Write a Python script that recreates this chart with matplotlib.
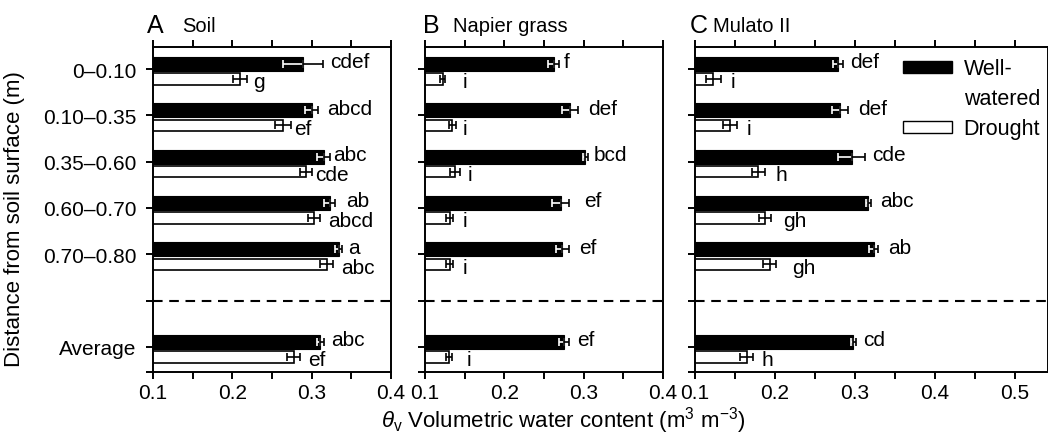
import matplotlib
matplotlib.use("Agg")
import matplotlib.pyplot as plt
from matplotlib.patches import Patch
from matplotlib.ticker import MultipleLocator, NullFormatter

plt.rcParams['font.family'] = ['Liberation Sans', 'DejaVu Sans']
plt.rcParams['mathtext.fontset'] = 'custom'
plt.rcParams['mathtext.rm'] = 'Liberation Sans'
plt.rcParams['mathtext.it'] = 'Liberation Sans:italic'

# ---- data ----
depths = ['0–0.10', '0.10–0.35', '0.35–0.60', '0.60–0.70', '0.70–0.80', 'Average']

soil_ww = [0.289, 0.300, 0.315, 0.323, 0.334, 0.311]
soil_ww_err = [0.025, 0.008, 0.008, 0.007, 0.004, 0.004]
soil_dr = [0.210, 0.264, 0.293, 0.3025, 0.319, 0.2775]
soil_dr_err = [0.009, 0.010, 0.008, 0.0075, 0.008, 0.008]
soil_ww_let = ['cdef', 'abcd', 'abc', 'ab', 'a', 'abc']
soil_dr_let = ['g', 'ef', 'cde', 'abcd', 'abc', 'ef']

napier_ww = [0.2625, 0.283, 0.302, 0.271, 0.273, 0.2755]
napier_ww_err = [0.007, 0.010, 0.003, 0.011, 0.008, 0.006]
napier_dr = [0.1225, 0.1346, 0.1375, 0.131, 0.131, 0.1305]
napier_dr_err = [0.003, 0.004, 0.006, 0.004, 0.004, 0.004]
napier_ww_let = ['f', 'def', 'bcd', 'ef', 'ef', 'ef']
napier_dr_let = ['i', 'i', 'i', 'i', 'i', 'i']

mulato_ww = [0.279, 0.281, 0.296, 0.3167, 0.323, 0.298]
mulato_ww_err = [0.006, 0.010, 0.017, 0.003, 0.005, 0.003]
mulato_dr = [0.123, 0.144, 0.179, 0.1875, 0.1935, 0.1646]
mulato_dr_err = [0.009, 0.009, 0.008, 0.007, 0.008, 0.008]
mulato_ww_let = ['def', 'def', 'cde', 'abc', 'ab', 'cd']
mulato_dr_let = ['i', 'i', 'h', 'gh', 'gh', 'h']

# ---- layout ----
W, H = 1048, 435
top_px, bot_px = 48, 373
# (left px, right px, xmax, panel letter, title, letter dx, title dx)
panels = [
    (153, 391, 0.4, 'A', 'Soil', -6, 29),
    (425, 663, 0.4, 'B', 'Napier grass', -2, 28),
    (695, 1048, 0.541, 'C', 'Mulato II', -5, 18),
]
series = [
    (soil_ww, soil_ww_err, soil_dr, soil_dr_err, soil_ww_let, soil_dr_let),
    (napier_ww, napier_ww_err, napier_dr, napier_dr_err, napier_ww_let, napier_dr_let),
    (mulato_ww, mulato_ww_err, mulato_dr, mulato_dr_err, mulato_ww_let, mulato_dr_let),
]
# gap between error bar end and letter (data units)
gaps_ww = [
    [0.009, 0.011, 0.0045, 0.014, 0.008, 0.010],
    [0.0055, 0.013, 0.0075, 0.018, 0.013, 0.010],
    [0.009, 0.013, 0.008, 0.011, 0.0137, 0.009],
]
gaps_dr = [
    [0.007, 0.0035, 0.0036, 0.011, 0.0105, 0.0105],
    [0.0225, 0.009, 0.0106, 0.013, 0.013, 0.0175],
    [0.012, 0.0116, 0.013, 0.0155, 0.0195, 0.0104],
]

rows = [0, 1, 2, 3, 4, 6]
ylim = (6.54, -0.475)

fig = plt.figure(figsize=(W / 100, H / 100), dpi=100)

axes = []
for k, (lpx, rpx, xmax, plet, ptitle, ldx, tdx) in enumerate(panels):
    ax = fig.add_axes([lpx / W, 1 - bot_px / H, (rpx - lpx) / W, (bot_px - top_px) / H])
    axes.append(ax)
    ww, ww_err, dr, dr_err, ww_let, dr_let = series[k]

    yw = [r - 0.108 for r in rows]
    yd = [r + 0.216 for r in rows]
    ax.barh(yw, ww, height=0.30, color='black', edgecolor='black', linewidth=0.8, zorder=2)
    ax.barh(yd, dr, height=0.24, color='white', edgecolor='black', linewidth=1.2, zorder=2)

    # error bars: white inside black bars, black outside
    ax.errorbar(ww, yw, xerr=[ww_err, [0] * 6], fmt='none', ecolor='white',
                elinewidth=1.2, capsize=3, capthick=1.2, zorder=3)
    ax.errorbar(ww, yw, xerr=[[0] * 6, ww_err], fmt='none', ecolor='black',
                elinewidth=1.2, capsize=3, capthick=1.2, zorder=3)
    ax.errorbar(dr, yd, xerr=dr_err, fmt='none', ecolor='black',
                elinewidth=1.2, capsize=3, capthick=1.2, zorder=3)

    for i in range(6):
        ax.text(ww[i] + ww_err[i] + gaps_ww[k][i], yw[i] - 0.05, ww_let[i],
                ha='left', va='center', fontsize=15, zorder=4)
        ax.text(dr[i] + dr_err[i] + gaps_dr[k][i], yd[i] + 0.06, dr_let[i],
                ha='left', va='center', fontsize=15, zorder=4)

    ax.axhline(5, color='black', lw=1.5, ls=(0, (4.6, 3.2)), zorder=1)

    ax.set_xlim(0.1, xmax)
    ax.set_ylim(*ylim)
    ax.xaxis.set_major_locator(MultipleLocator(0.1))
    ax.xaxis.set_minor_locator(MultipleLocator(0.05))
    ax.xaxis.set_minor_formatter(NullFormatter())
    ax.tick_params(axis='x', which='both', direction='out', length=5, width=1.4,
                   top=True, labeltop=False, labelsize=15, pad=3)
    ax.tick_params(axis='y', which='both', direction='out', length=5, width=1.4,
                   labelsize=15, pad=7)
    yt = [0, 1, 2, 3, 4, 5, 6, ylim[0]]
    ax.set_yticks(yt)
    if k == 0:
        ax.set_yticklabels(depths[:5] + [''] + [depths[5], ''])
    else:
        ax.set_yticklabels([''] * len(yt))
    ax.xaxis.set_major_formatter(plt.FuncFormatter(lambda v, p: '%g' % round(v, 2)))
    for s in ax.spines.values():
        s.set_linewidth(1.4)

    fig.text((lpx + ldx) / W, 1 - 33 / H, plet, fontsize=18, ha='left', va='baseline')
    fig.text((lpx + tdx) / W, 1 - 32 / H, ptitle, fontsize=14.5, ha='left', va='baseline')

# legend: patch lines up with the first line of "Well-watered"
leg = axes[2].legend(
    handles=[Patch(facecolor='black', edgecolor='black', linewidth=1),
             Patch(facecolor='none', edgecolor='none'),
             Patch(facecolor='white', edgecolor='black', linewidth=1)],
    labels=['Well-', 'watered', 'Drought'],
    loc='upper left', bbox_to_anchor=(0.59, 0.965), frameon=False, fontsize=15.5,
    handlelength=2.25, handleheight=0.5, handletextpad=0.55, labelspacing=0.42,
    borderpad=0, borderaxespad=0)

fig.text(15 / W, 1 - 219 / H, 'Distance from soil surface (m)', rotation=90,
         fontsize=16, ha='center', va='center')
fig.text(563 / W, 1 - 421 / H,
         r'$\it{\theta}_{\rm v}$ Volumetric water content (m$^3$ m$^{-3}$)',
         fontsize=16, ha='center', va='center')

fig.savefig('out.png', dpi=100)
